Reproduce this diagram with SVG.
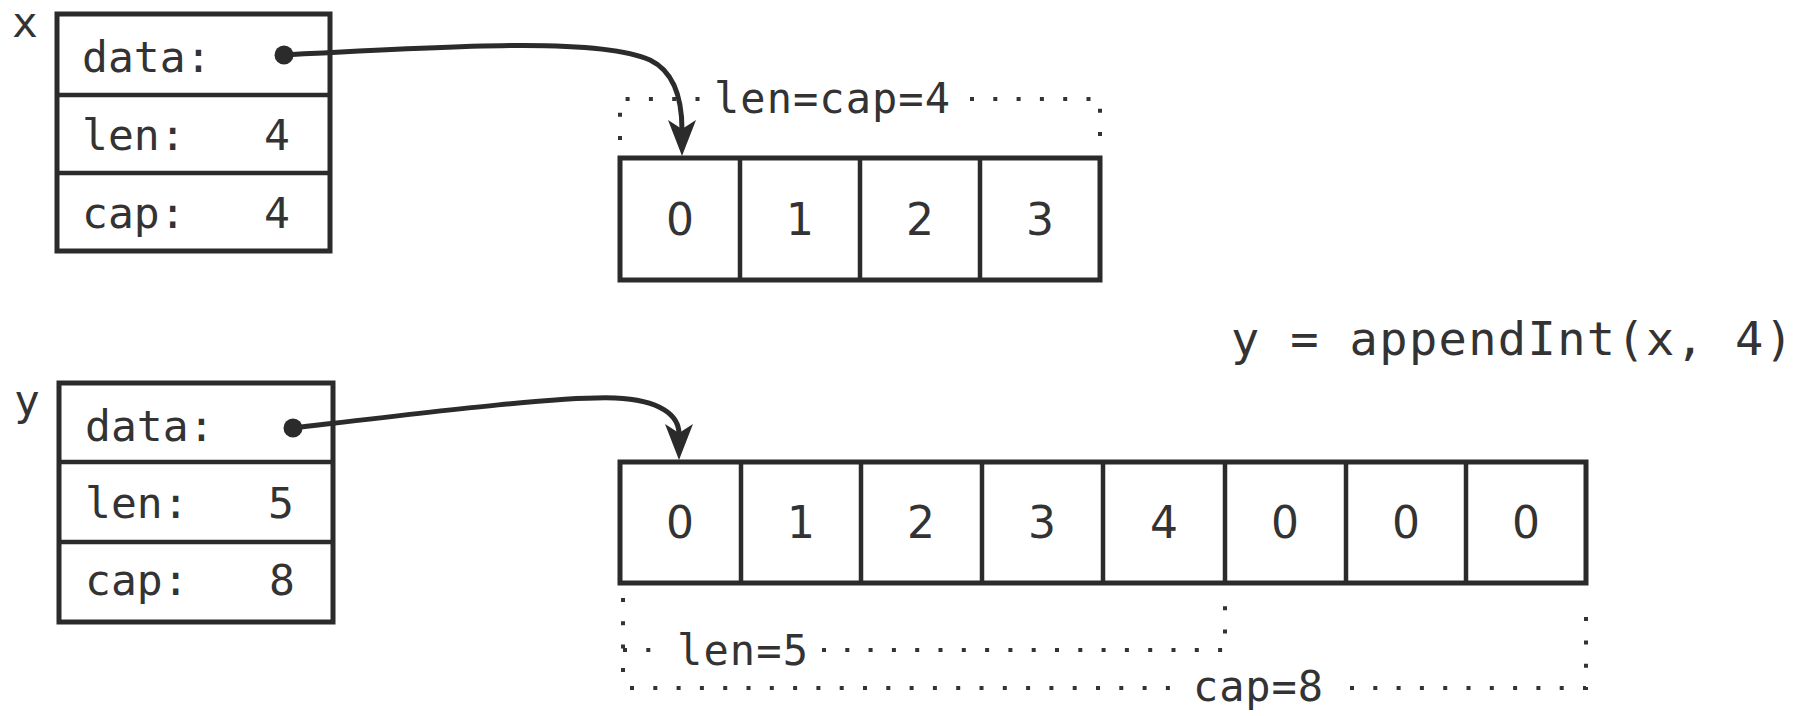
<svg xmlns="http://www.w3.org/2000/svg" width="1796" height="716" viewBox="0 0 1796 716">
<defs>
<style>
.box{fill:#fff;stroke:#2b2b2b;stroke-width:5}
.div{stroke:#2b2b2b;stroke-width:4.5;fill:none}
.mono{font-family:"DejaVu Sans Mono","Liberation Mono",monospace;fill:#333}
.lbl{font-size:43px}
.dim{font-size:42px}
.num{font-family:"DejaVu Sans","Liberation Sans",sans-serif;font-size:44px;fill:#333;text-anchor:middle}
.dots{stroke:#333;stroke-width:4;fill:none;stroke-dasharray:4 19.3}
.conn{stroke:#2b2b2b;stroke-width:5;fill:none}
</style>
<marker id="ah" viewBox="0 0 36 28" refX="10" refY="14" markerWidth="36" markerHeight="28" markerUnits="userSpaceOnUse" orient="auto">
<path d="M0,0 L36,14 L0,28 L9,14 Z" fill="#2b2b2b"/>
</marker>
</defs>
<rect width="1796" height="716" fill="#fff"/>

<g id="title">
<text class="mono" x="1231" y="355" font-size="47" textLength="562" lengthAdjust="spacing">y = appendInt(x, 4)</text>
</g>

<g id="node-x">
<text class="mono lbl" x="12" y="37">x</text>
<rect class="box" x="57" y="14" width="273" height="237"/>
<line class="div" x1="57" y1="95" x2="330" y2="95"/>
<line class="div" x1="57" y1="173" x2="330" y2="173"/>
<text class="mono lbl" x="82" y="72">data:</text>
<circle cx="284" cy="55" r="9.5" fill="#2b2b2b"/>
<text class="mono lbl" x="82" y="150">len:</text>
<text class="mono lbl" x="277" y="150" text-anchor="middle">4</text>
<text class="mono lbl" x="82" y="228">cap:</text>
<text class="mono lbl" x="277" y="228" text-anchor="middle">4</text>
</g>

<g id="node-y">
<text class="mono lbl" x="14" y="415">y</text>
<rect class="box" x="59" y="383" width="274" height="239"/>
<line class="div" x1="59" y1="462" x2="333" y2="462"/>
<line class="div" x1="59" y1="542" x2="333" y2="542"/>
<text class="mono lbl" x="85" y="441">data:</text>
<circle cx="293" cy="428" r="9.5" fill="#2b2b2b"/>
<text class="mono lbl" x="85" y="518">len:</text>
<text class="mono lbl" x="281" y="518" text-anchor="middle">5</text>
<text class="mono lbl" x="85" y="595">cap:</text>
<text class="mono lbl" x="282" y="595" text-anchor="middle">8</text>
</g>

<g id="array-x">
<rect class="box" x="620" y="158" width="480" height="122"/>
<line class="div" x1="740" y1="158" x2="740" y2="280"/>
<line class="div" x1="860" y1="158" x2="860" y2="280"/>
<line class="div" x1="980" y1="158" x2="980" y2="280"/>
<text class="num" x="680" y="235">0</text>
<text class="num" x="800" y="235">1</text>
<text class="num" x="920" y="235">2</text>
<text class="num" x="1040" y="235">3</text>
<path class="dots" d="M620,140 L620,99 L706,99"/>
<path class="dots" d="M970,99 L1100,99 L1100,140"/>
<text class="mono dim" x="714" y="113" textLength="236" lengthAdjust="spacing">len=cap=4</text>
</g>

<g id="array-y">
<rect class="box" x="620" y="462" width="966" height="121"/>
<line class="div" x1="741" y1="462" x2="741" y2="583"/>
<line class="div" x1="861" y1="462" x2="861" y2="583"/>
<line class="div" x1="982" y1="462" x2="982" y2="583"/>
<line class="div" x1="1103" y1="462" x2="1103" y2="583"/>
<line class="div" x1="1225" y1="462" x2="1225" y2="583"/>
<line class="div" x1="1346" y1="462" x2="1346" y2="583"/>
<line class="div" x1="1466" y1="462" x2="1466" y2="583"/>
<text class="num" x="680" y="538">0</text>
<text class="num" x="801" y="538">1</text>
<text class="num" x="921" y="538">2</text>
<text class="num" x="1042" y="538">3</text>
<text class="num" x="1164" y="538">4</text>
<text class="num" x="1285" y="538">0</text>
<text class="num" x="1406" y="538">0</text>
<text class="num" x="1526" y="538">0</text>
<path class="dots" d="M623,598 L623,688"/>
<path class="dots" d="M623,650 L668,650"/>
<path class="dots" d="M822,650 L1225,650 L1225,598"/>
<text class="mono dim" x="677" y="665" textLength="131" lengthAdjust="spacing">len=5</text>
<path class="dots" d="M630,688 L1180,688"/>
<path class="dots" d="M1350,688 L1586,688 L1586,598"/>
<text class="mono dim" x="1193" y="701" textLength="130" lengthAdjust="spacing">cap=8</text>
</g>

<g id="connectors">
<path class="conn" d="M284,55 C470,45 600,38 650,60 C675,72 682,100 682,130" marker-end="url(#ah)"/>
<path class="conn" d="M293,428 C430,412 560,396 615,398 C660,400 679,415 679,434" marker-end="url(#ah)"/>
</g>
</svg>
